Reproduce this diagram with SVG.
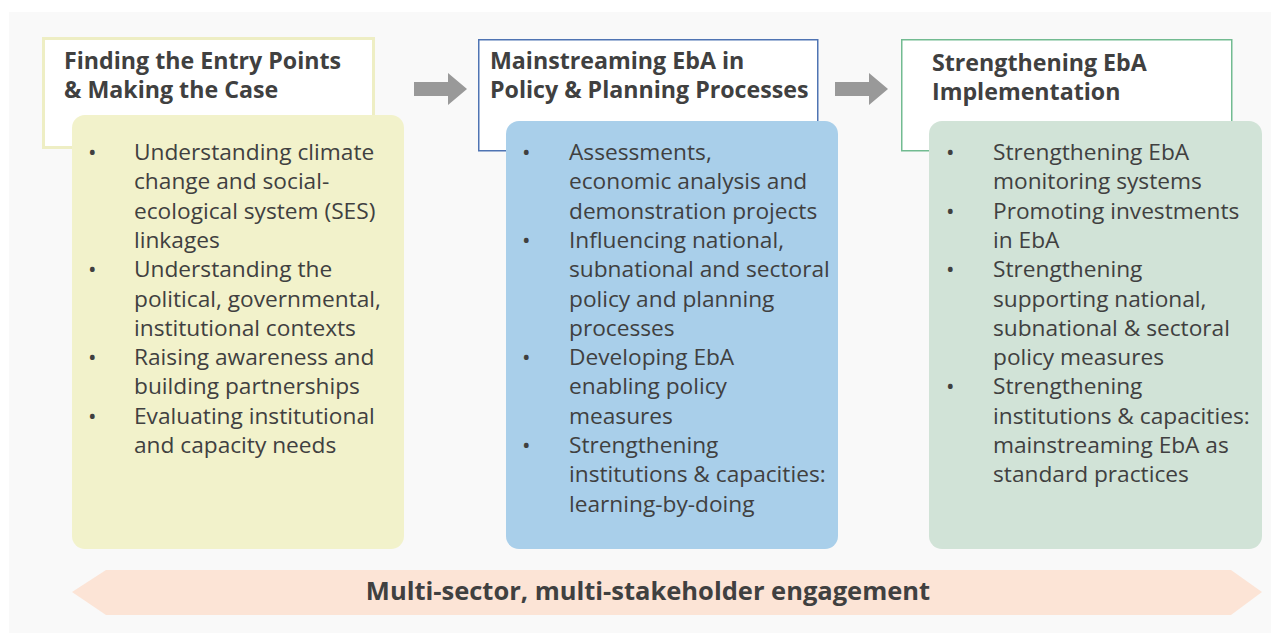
<svg xmlns="http://www.w3.org/2000/svg" width="1279" height="633" viewBox="0 0 1279 633">
<style>
.hd{font-family:"Open Sans","Noto Sans",sans-serif;font-weight:bold;font-size:23.2px;fill:#404040}
.bd{font-family:"Open Sans","Noto Sans",sans-serif;font-size:22.7px;fill:#404040}
.ft{font-family:"Open Sans","Noto Sans",sans-serif;font-weight:bold;font-size:25.5px;fill:#404040}
</style>
<rect x="0" y="0" width="1279" height="633" fill="#ffffff"/>
<rect x="9" y="12" width="1262" height="621" fill="#f9f9f9"/>
<g id="connectors" fill="#999999">
<polygon points="414,82 448,82 448,73 467,89 448,105 448,96 414,96"/>
<polygon points="835,82 869,82 869,73 888,89 869,105 869,96 835,96"/>
</g>
<g id="node1">
<rect x="43.5" y="38.5" width="330" height="109" fill="#ffffff" stroke="#eeeec4" stroke-width="3"/>
<text class="hd" x="64" y="69">Finding the Entry Points</text>
<text class="hd" x="64" y="98">&amp; Making the Case</text>
<rect x="72" y="115" width="332" height="434" rx="13" fill="#f2f2cb"/>
<g class="bd">
<text x="88" y="160">•</text><text x="134" y="160">Understanding climate</text>
<text x="134" y="189.3">change and social-</text>
<text x="134" y="218.6">ecological system (SES)</text>
<text x="134" y="247.9">linkages</text>
<text x="88" y="277.2">•</text><text x="134" y="277.2">Understanding the</text>
<text x="134" y="306.5">political, governmental,</text>
<text x="134" y="335.8">institutional contexts</text>
<text x="88" y="365.1">•</text><text x="134" y="365.1">Raising awareness and</text>
<text x="134" y="394.4">building partnerships</text>
<text x="88" y="423.7">•</text><text x="134" y="423.7">Evaluating institutional</text>
<text x="134" y="453">and capacity needs</text>
</g>
</g>
<g id="node2">
<rect x="478.75" y="39.75" width="339" height="111" fill="#ffffff" stroke="#4f74b3" stroke-width="1.5"/>
<text class="hd" x="490" y="69">Mainstreaming EbA in</text>
<text class="hd" x="490" y="98">Policy &amp; Planning Processes</text>
<rect x="506" y="121" width="332" height="428" rx="13" fill="#a9cfea"/>
<g class="bd">
<text x="522" y="160">•</text><text x="569" y="160">Assessments,</text>
<text x="569" y="189.3">economic analysis and</text>
<text x="569" y="218.6">demonstration projects</text>
<text x="522" y="247.9">•</text><text x="569" y="247.9">Influencing national,</text>
<text x="569" y="277.2">subnational and sectoral</text>
<text x="569" y="306.5">policy and planning</text>
<text x="569" y="335.8">processes</text>
<text x="522" y="365.1">•</text><text x="569" y="365.1">Developing EbA</text>
<text x="569" y="394.4">enabling policy</text>
<text x="569" y="423.7">measures</text>
<text x="522" y="453">•</text><text x="569" y="453">Strengthening</text>
<text x="569" y="482.3">institutions &amp; capacities:</text>
<text x="569" y="511.6">learning-by-doing</text>
</g>
</g>
<g id="node3">
<rect x="901.75" y="39.75" width="330" height="111" fill="#ffffff" stroke="#72bb91" stroke-width="1.5"/>
<text class="hd" x="932" y="71">Strengthening EbA</text>
<text class="hd" x="932" y="100">Implementation</text>
<rect x="929" y="121" width="333" height="428" rx="13" fill="#d1e3d7"/>
<g class="bd">
<text x="946" y="160">•</text><text x="993" y="160">Strengthening EbA</text>
<text x="993" y="189.3">monitoring systems</text>
<text x="946" y="218.6">•</text><text x="993" y="218.6">Promoting investments</text>
<text x="993" y="247.9">in EbA</text>
<text x="946" y="277.2">•</text><text x="993" y="277.2">Strengthening</text>
<text x="993" y="306.5">supporting national,</text>
<text x="993" y="335.8">subnational &amp; sectoral</text>
<text x="993" y="365.1">policy measures</text>
<text x="946" y="394.4">•</text><text x="993" y="394.4">Strengthening</text>
<text x="993" y="423.7">institutions &amp; capacities:</text>
<text x="993" y="453">mainstreaming EbA as</text>
<text x="993" y="482.3">standard practices</text>
</g>
</g>
<g id="engagement">
<polygon points="72,592 106,570 1231,570 1262,592 1231,615 106,615" fill="#fce4d6"/>
<text class="ft" x="648" y="600" text-anchor="middle">Multi-sector, multi-stakeholder engagement</text>
</g>
</svg>
